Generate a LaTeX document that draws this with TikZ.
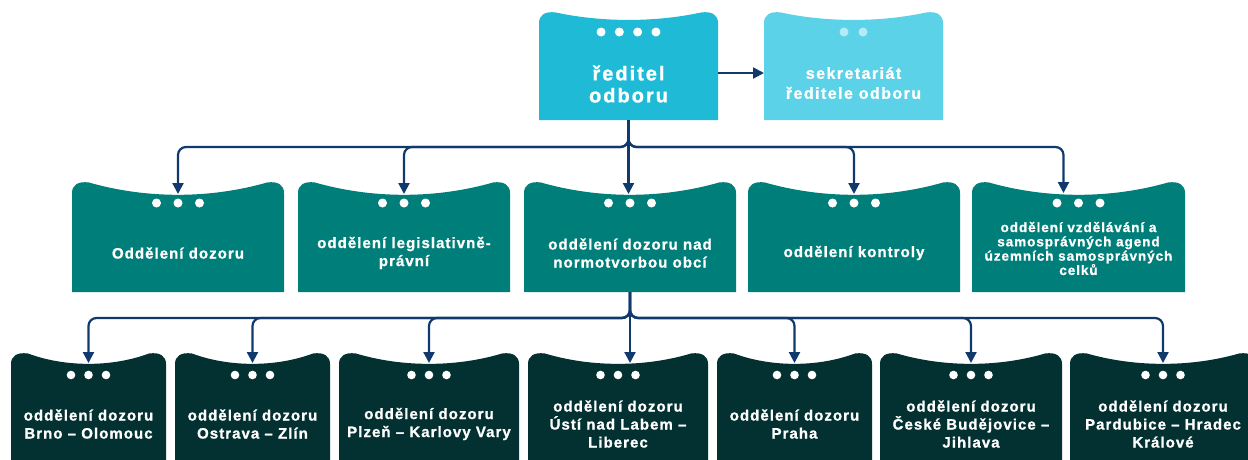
\documentclass[tikz,border=0pt]{standalone}
\usepackage{fontspec}
\setmainfont{Liberation Sans}[LetterSpace=7]
\usetikzlibrary{arrows.meta,calc}
\definecolor{cTop}{RGB}{31,186,214}
\definecolor{cSec}{RGB}{91,210,232}
\definecolor{cSecDot}{RGB}{180,236,246}
\definecolor{cMid}{RGB}{0,127,122}
\definecolor{cBot}{RGB}{3,49,49}
\definecolor{cLine}{RGB}{16,57,110}
\newcommand\wavefill[3]{%
  \fill[#3] let \p1=(#1.south west), \p2=(#1.north east) in
   (\x1,\y1) -- (\x1,\y2-11pt) .. controls (\x1,\y2-3pt) and (\x1+6pt,\y2+1pt) .. (\x1+17pt,\y2-0.5pt)
   .. controls ({\x1+0.35*(\x2-\x1)},{\y2-1.3*#2pt}) and ({\x2-0.35*(\x2-\x1)},{\y2-1.3*#2pt}) .. (\x2-17pt,\y2-0.5pt)
   .. controls (\x2-6pt,\y2+1pt) and (\x2,\y2-3pt) .. (\x2,\y2-11pt) -- (\x2,\y1) -- cycle;}
\tikzset{
  frame/.style={inner sep=0pt, outer sep=0pt, draw=none},
  txt/.style={text=white, align=center, inner sep=0pt, font=\fontsize{15}{18}\selectfont\bfseries\addfontfeatures{FakeBold=1}},
  bigtxt/.style={text=white, align=center, inner sep=0pt, font=\fontsize{20}{22}\selectfont\bfseries\addfontfeatures{LetterSpace=10,FakeBold=1.2}},
  sectxt/.style={text=white, align=center, inner sep=0pt, font=\fontsize{16}{20}\selectfont\bfseries\addfontfeatures{LetterSpace=9,FakeBold=1}},
  smalltxt/.style={text=white, align=center, inner sep=0pt, font=\fontsize{13.5}{14.3}\selectfont\bfseries\addfontfeatures{FakeBold=1}},
  conn/.style={draw=cLine, line width=2.2pt, rounded corners=8pt, -{Triangle[length=11pt,width=11pt]}},
}
\begin{document}
\begin{tikzpicture}[x=1pt,y=-1pt]
\clip (0,0) rectangle (1248,459);
\fill[white] (0,0) rectangle (1248,459);
% frames
\node[frame, minimum width=179, minimum height=108] (r) at (628.5,66) {};
\node[frame, minimum width=179, minimum height=108] (s) at (853.5,66) {};
\node[frame, minimum width=212, minimum height=110] (m1) at (178,237) {};
\node[frame, minimum width=212, minimum height=110] (m2) at (404,237) {};
\node[frame, minimum width=212, minimum height=110] (m3) at (630,237) {};
\node[frame, minimum width=212, minimum height=110] (m4) at (854,237) {};
\node[frame, minimum width=213, minimum height=110] (m5) at (1078.5,237) {};
\node[frame, minimum width=155, minimum height=122] (b1) at (88.5,414) {};
\node[frame, minimum width=155, minimum height=122] (b2) at (252.5,414) {};
\node[frame, minimum width=180, minimum height=122] (b3) at (429,414) {};
\node[frame, minimum width=180, minimum height=122] (b4) at (618,414) {};
\node[frame, minimum width=155, minimum height=122] (b5) at (794.5,414) {};
\node[frame, minimum width=182, minimum height=122] (b6) at (971,414) {};
\node[frame, minimum width=186, minimum height=122] (b7) at (1163,414) {};
% shapes
\wavefill{r}{8}{cTop}
\wavefill{s}{8}{cSec}
\foreach \bx in {m1,m2,m3,m4,m5}{\wavefill{\bx}{13}{cMid}}
\foreach \bx in {b1,b2,b3,b4,b5,b6,b7}{\wavefill{\bx}{11}{cBot}}
% dots
\foreach \i in {-1.5,-0.5,0.5,1.5} \fill[white] ($(r.north)+(\i*18.3,20)$) circle (4.5pt);
\foreach \i in {-0.5,0.5} \fill[cSecDot] ($(s.north)+(\i*19,20)$) circle (4.5pt);
\foreach \bx in {m1,m2,m3,m4,m5}{\foreach \i in {-1,0,1} \fill[white] ($(\bx.north)+(\i*21.5,21)$) circle (4.5pt);}
\foreach \bx in {b1,b2,b3,b4,b5,b6,b7}{\foreach \i in {-1,0,1} \fill[white] ($(\bx.north)+(\i*17.5,22)$) circle (4.3pt);}
% texts
\node[bigtxt] (tr) at (628.5,84) {ředitel\\odboru};
\node[sectxt] (ts) at (853.5,83) {sekretariát\\ředitele odboru};
\node[txt] (tm1) at (178,253) {Oddělení dozoru};
\node[txt] (tm2) at (404,253) {oddělení legislativně-\\právní};
\node[txt] (tm3) at (630,253) {oddělení dozoru nad\\normotvorbou obcí};
\node[txt] (tm4) at (854,253) {oddělení kontroly};
\node[smalltxt] (tm5) at (1078.5,248.5) {oddělení vzdělávání a\\samosprávných agend\\územních samosprávných\\celků};
\node[txt] (tb1) at (88.5,424) {oddělení dozoru\\Brno – Olomouc};
\node[txt] (tb2) at (252.5,424) {oddělení dozoru\\Ostrava – Zlín};
\node[txt] (tb3) at (429,424) {oddělení dozoru\\Plzeň – Karlovy Vary};
\node[txt] (tb4) at (618,424) {oddělení dozoru\\Ústí nad Labem –\\Liberec};
\node[txt] (tb5) at (794.5,424) {oddělení dozoru\\Praha};
\node[txt] (tb6) at (971,424) {oddělení dozoru\\České Budějovice –\\Jihlava};
\node[txt] (tb7) at (1163,424) {oddělení dozoru\\Pardubice – Hradec\\Králové};
% connectors
\draw[conn] (r.east |- 0,73) -- (s.west |- 0,73);
\draw[conn] (r.south) -- ++(0,27) -| ($(m1.north)+(0,12)$);
\draw[conn] (r.south) -- ++(0,27) -| ($(m2.north)+(0,12)$);
\draw[conn] (r.south) -- ($(r.south |- m3.north)+(0,12)$);
\draw[conn] (r.south) -- ++(0,27) -| ($(m4.north)+(0,12)$);
\draw[conn] (r.south) -- ++(0,27) -| ($(m5.north)+(-15,11)$);
\draw[conn] (m3.south) -- ++(0,26) -| ($(b1.north)+(0,10)$);
\draw[conn] (m3.south) -- ++(0,26) -| ($(b2.north)+(0,10)$);
\draw[conn] (m3.south) -- ++(0,26) -| ($(b3.north)+(0,10)$);
\draw[conn] (m3.south) -- ($(m3.south |- b4.north)+(0,10)$);
\draw[conn] (m3.south) -- ++(0,26) -| ($(b5.north)+(0,10)$);
\draw[conn] (m3.south) -- ++(0,26) -| ($(b6.north)+(0,10)$);
\draw[conn] (m3.south) -- ++(0,26) -| ($(b7.north)+(0,10)$);
\end{tikzpicture}
\end{document}
